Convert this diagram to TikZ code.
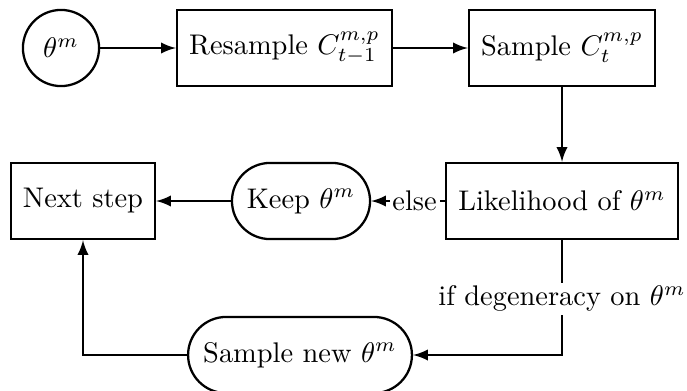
\documentclass[tikz,border=0pt]{standalone}
\usetikzlibrary{arrows}
\begin{document}
\begin{tikzpicture}[x=0.352pt,y=-0.352pt,
  box/.style={draw,thick,rectangle,minimum height=26.8pt,inner sep=2pt},
  pill/.style={draw,thick,rectangle,rounded corners=13.4pt,minimum height=26.8pt,inner sep=2pt},
  circ/.style={draw,thick,circle,minimum size=26.8pt,inner sep=0pt},
  conn/.style={thick,-latex},
  lbl/.style={fill=white,inner sep=1pt}]
\useasboundingbox (0,0) rectangle (687,390);
\node[circ] (theta) at (61,48) {$\theta^m$};
\node[box,minimum width=75.7pt] (res) at (284.5,48) {Resample $C^{m,p}_{t-1}$};
\node[box,minimum width=65.5pt] (samp) at (562,48) {Sample $C^{m,p}_{t}$};
\node[box,minimum width=81.7pt] (lik) at (562,201) {Likelihood of $\theta^m$};
\node[pill,minimum width=48.6pt] (keep) at (301,201) {Keep $\theta^m$};
\node[box,minimum width=50.7pt] (next) at (83,201) {Next step};
\node[pill,minimum width=78.8pt] (new) at (300,355) {Sample new $\theta^m$};
\coordinate (c1) at (562,355);
\coordinate (c2) at (83,355);
\draw[conn] (theta) -- (res);
\draw[conn] (res) -- (samp);
\draw[conn] (samp) -- (lik);
\draw[conn] (lik) -- node[lbl,pos=0.41] {else} (keep);
\draw[conn] (keep) -- (next);
\draw[conn] (lik) -- node[lbl,pos=0.51] {if degeneracy on $\theta^m$} (c1) -- (new);
\draw[conn] (new) -- (c2) -- (next);
\end{tikzpicture}
\end{document}
